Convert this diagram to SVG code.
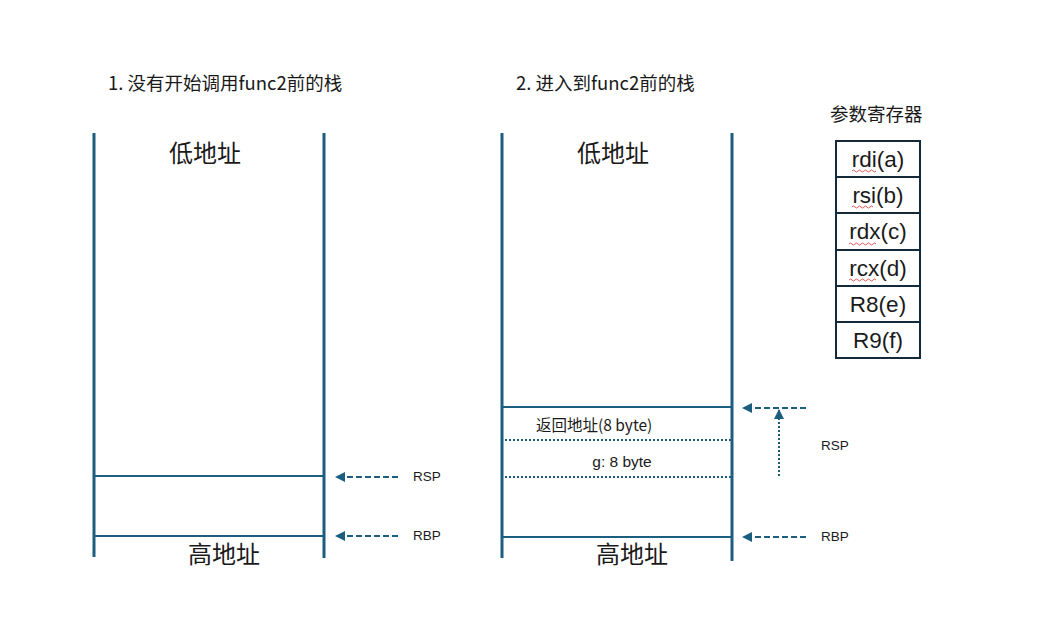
<svg xmlns="http://www.w3.org/2000/svg" width="1045" height="640" viewBox="0 0 1045 640">
<style>
.wall{stroke:#1b5e80;stroke-width:3;fill:none}
.hl{stroke:#1b5e80;stroke-width:2;fill:none}
.dot{stroke:#1b5e80;stroke-width:2;stroke-dasharray:2 2;fill:none}
.dash{stroke:#1b5e80;stroke-width:2;stroke-dasharray:6 3;fill:none}
.t{font-family:"Noto Sans CJK SC","Liberation Sans",sans-serif;fill:#1a1a1a}
.l{font-family:"Liberation Sans","Noto Sans CJK SC",sans-serif;fill:#1a1a1a}
.reg{fill:#fff;stroke:#14293a;stroke-width:2}
.wave{stroke:#e03030;stroke-width:0.8;fill:none}
</style>
<defs>
<marker id="ah" viewBox="0 0 10 10" refX="9" refY="5" markerWidth="5" markerHeight="5" orient="auto" markerUnits="strokeWidth">
<path d="M10,5 L0,0 L0,10 Z" fill="#1b5e80"/>
</marker>
</defs>
<rect width="1045" height="640" fill="#fff"/>

<g id="stack1">
<text class="t" x="108" y="90" font-size="18.5">1. 没有开始调用func2前的栈</text>
<line class="wall" x1="94" y1="133" x2="94" y2="557"/>
<line class="wall" x1="324" y1="133" x2="324" y2="558"/>
<text class="t" x="205" y="162" font-size="24" text-anchor="middle">低地址</text>
<line class="hl" x1="94" y1="476" x2="324" y2="476"/>
<line class="hl" x1="94" y1="536" x2="324" y2="536"/>
<text class="t" x="224" y="563" font-size="24" text-anchor="middle">高地址</text>
</g>

<g id="stack2">
<text class="t" x="516" y="90" font-size="18.5">2. 进入到func2前的栈</text>
<line class="wall" x1="502" y1="133" x2="502" y2="558"/>
<line class="wall" x1="732" y1="133" x2="732" y2="561"/>
<text class="t" x="613" y="162" font-size="24" text-anchor="middle">低地址</text>
<line class="hl" x1="502" y1="407" x2="732" y2="407"/>
<text class="t" x="536" y="431" font-size="15.5">返回地址(8 byte)</text>
<line class="dot" x1="501" y1="440" x2="731" y2="440"/>
<text class="l" x="622" y="467" font-size="15.5" text-anchor="middle">g: 8 byte</text>
<line class="dot" x1="505" y1="477" x2="731" y2="477"/>
<line class="hl" x1="502" y1="537" x2="732" y2="537"/>
<text class="t" x="632" y="563" font-size="24" text-anchor="middle">高地址</text>
</g>

<g id="regs">
<text class="t" x="830" y="121" font-size="18.5">参数寄存器</text>
<rect class="reg" x="836" y="141" width="84" height="36"/>
<rect class="reg" x="836" y="177" width="84" height="36"/>
<rect class="reg" x="836" y="213" width="84" height="37"/>
<rect class="reg" x="836" y="250" width="84" height="36"/>
<rect class="reg" x="836" y="286" width="84" height="36"/>
<rect class="reg" x="836" y="322" width="84" height="36"/>
<g class="l" font-size="22.5" text-anchor="middle">
<text x="878" y="167">rdi(a)</text>
<text x="878" y="203">rsi(b)</text>
<text x="878" y="239">rdx(c)</text>
<text x="878" y="276">rcx(d)</text>
<text x="878" y="312">R8(e)</text>
<text x="878" y="348">R9(f)</text>
</g>
<path class="wave" d="M852,171 q1.5,-2 3,0 t3,0 t3,0 t3,0 t3,0 t3,0 t3,0 t3,0"/>
<path class="wave" d="M852,207 q1.5,-2 3,0 t3,0 t3,0 t3,0 t3,0 t3,0 t3,0"/>
<path class="wave" d="M849,244 q1.5,-2 3,0 t3,0 t3,0 t3,0 t3,0 t3,0 t3,0 t3,0 t3,0"/>
<path class="wave" d="M849,280 q1.5,-2 3,0 t3,0 t3,0 t3,0 t3,0 t3,0 t3,0 t3,0 t3,0"/>
</g>

<g id="connectors">
<line class="dash" x1="398" y1="477" x2="336" y2="477" marker-end="url(#ah)"/>
<line class="dash" x1="398" y1="536" x2="336" y2="536" marker-end="url(#ah)"/>
<line class="dash" x1="806" y1="408" x2="743" y2="408" marker-end="url(#ah)"/>
<line class="dot" x1="779" y1="476" x2="779" y2="410" marker-end="url(#ah)"/>
<line class="dash" x1="806" y1="537" x2="743" y2="537" marker-end="url(#ah)"/>
</g>

<g id="labels" class="l" font-size="13.5">
<text x="413" y="481">RSP</text>
<text x="413" y="540">RBP</text>
<text x="821" y="450">RSP</text>
<text x="821" y="541">RBP</text>
</g>
</svg>
